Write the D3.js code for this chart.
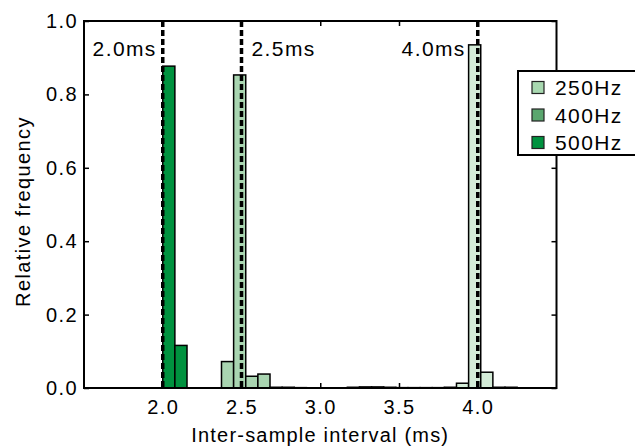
<!DOCTYPE html>
<html>
<head>
<meta charset="utf-8">
<script src="https://cdn.jsdelivr.net/npm/d3@7"></script>
<style>
    body { margin: 0; background: #fff; }
    svg { display: block; }
    text { font-family: "Liberation Sans", Arial, sans-serif; fill: #000; }
</style>
</head>
<body>
<div id="chart"></div>
<script>
// histogram data
var seriesNames = ["250Hz", "400Hz", "500Hz"];
var binWidth = 0.077;
var binStarts = [3.172, 2.373, 2.0];
var freq250 = [0.002, 0.003, 0.003, 0.002, 0.001, 0.001, 0.001, 0.001, 0.002, 0.013, 0.935, 0.043, 0.002, 0.002];
var freq400 = [0.072, 0.853, 0.032, 0.038, 0.002, 0.002, 0.001];
var freq500 = [0.877, 0.116];
var markers = [2.0, 2.5, 4.0];
var markerLabels = ["2.0ms", "2.5ms", "4.0ms"];
var xTicks = [2.0, 2.5, 3.0, 3.5, 4.0];
var yTicks = [0.0, 0.2, 0.4, 0.6, 0.8, 1.0];

var barColors = ["#d4ecd8", "#a9d5b1", "#00923f"];
var swatchColors = ["#a8d8b0", "#5aa66e", "#00923f"];

(function () {
    "use strict";

    var width = 635, height = 448,
        margin = {top: 21, right: 78.5, bottom: 60, left: 84},
        w = width - margin.left - margin.right,
        h = height - margin.top - margin.bottom;

    var svg = d3.select("#chart").append("svg")
        .attr("width", width)
        .attr("height", height);

    var g = svg.append("g")
        .attr("transform", `translate(${margin.left},${margin.top})`);

    var x = d3.scaleLinear().domain([1.5, 4.5]).range([0, w]);
    var y = d3.scaleLinear().domain([0, 1]).range([h, 0]);

    var allFreqs = [freq250, freq400, freq500];

    // bars, one group per series
    allFreqs.forEach(function (freqs, s) {
        var bins = freqs.map(function (f, i) {
            var x0 = binStarts[s] + i * binWidth;
            return {x0: x0, x1: x0 + binWidth, f: f};
        });
        g.append("g").attr("class", "series-" + s)
            .selectAll("rect")
            .data(bins)
            .enter().append("rect")
            .attr("x", d => x(d.x0))
            .attr("y", d => y(d.f))
            .attr("width", d => x(d.x1) - x(d.x0))
            .attr("height", d => y(0) - y(d.f))
            .attr("fill", barColors[s])
            .attr("stroke", "#000")
            .attr("stroke-width", 1.5);
    });

    // dashed reference lines
    g.selectAll("line.marker")
        .data(markers)
        .enter().append("line")
        .attr("class", "marker")
        .attr("x1", d => x(d)).attr("x2", d => x(d))
        .attr("y1", 0).attr("y2", h)
        .attr("stroke", "#000")
        .attr("stroke-width", 3.5)
        .attr("stroke-dasharray", "6,3");

    var tickFont = 20, textFont = 21, spacing = "1.4px";
    var labelShift = [-6, 10, -12];

    g.selectAll("text.marker")
        .data(markers)
        .enter().append("text")
        .attr("class", "marker")
        .attr("x", (d, i) => x(d) + labelShift[i])
        .attr("y", 35)
        .attr("text-anchor", (d, i) => i === 1 ? "start" : "end")
        .style("font-size", textFont + "px")
        .style("letter-spacing", spacing)
        .text((d, i) => markerLabels[i]);

    // axes: ticks point inward on all four sides
    var xAxisB = d3.axisBottom(x).tickValues(xTicks).tickSize(-5).tickPadding(12).tickFormat(d3.format(".1f"));
    var xAxisT = d3.axisTop(x).tickValues(xTicks).tickSize(-5).tickFormat("");
    var yAxisL = d3.axisLeft(y).tickValues(yTicks).tickSize(-5).tickPadding(6).tickFormat(d3.format(".1f"));
    var yAxisR = d3.axisRight(y).tickValues(yTicks).tickSize(-5).tickFormat("");

    function styleAxis(sel) {
        sel.select(".domain").remove();
        sel.selectAll(".tick line").attr("stroke", "#000").attr("stroke-width", 1.5);
        sel.selectAll(".tick text")
            .style("font-size", tickFont + "px")
            .style("letter-spacing", spacing)
            .style("font-family", "Liberation Sans, Arial, sans-serif")
            .attr("fill", "#000");
    }

    g.append("g").attr("transform", `translate(0,${h})`).call(xAxisB).call(styleAxis);
    g.append("g").call(xAxisT).call(styleAxis);
    g.append("g").call(yAxisL).call(styleAxis);
    g.append("g").attr("transform", `translate(${w},0)`).call(yAxisR).call(styleAxis);

    g.append("rect")
        .attr("width", w).attr("height", h)
        .attr("fill", "none")
        .attr("stroke", "#000")
        .attr("stroke-width", 2);

    // axis titles
    svg.append("text")
        .attr("x", margin.left + w / 2)
        .attr("y", 442)
        .attr("text-anchor", "middle")
        .style("font-size", tickFont + "px")
        .style("letter-spacing", "1.2px")
        .text("Inter-sample interval (ms)");

    svg.append("text")
        .attr("transform", `translate(30,${margin.top + h / 2 + 7}) rotate(-90)`)
        .attr("text-anchor", "middle")
        .style("font-size", tickFont + "px")
        .style("letter-spacing", spacing)
        .text("Relative frequency");

    // legend, runs off the right edge
    var legend = svg.append("g").attr("transform", "translate(518,71)");
    legend.append("rect")
        .attr("width", 130).attr("height", 84)
        .attr("fill", "#fff")
        .attr("stroke", "#000")
        .attr("stroke-width", 2);

    var items = legend.selectAll("g.item")
        .data(seriesNames)
        .enter().append("g")
        .attr("class", "item")
        .attr("transform", (d, i) => `translate(0,${16.5 + i * 27.5})`);

    items.append("rect")
        .attr("x", 14).attr("y", -6)
        .attr("width", 12).attr("height", 12)
        .attr("fill", (d, i) => swatchColors[i])
        .attr("stroke", "#222")
        .attr("stroke-width", 1.2);

    items.append("text")
        .attr("x", 37).attr("y", 7.5)
        .style("font-size", textFont + "px")
        .style("letter-spacing", spacing)
        .text(d => d);
})();
</script>
</body>
</html>
